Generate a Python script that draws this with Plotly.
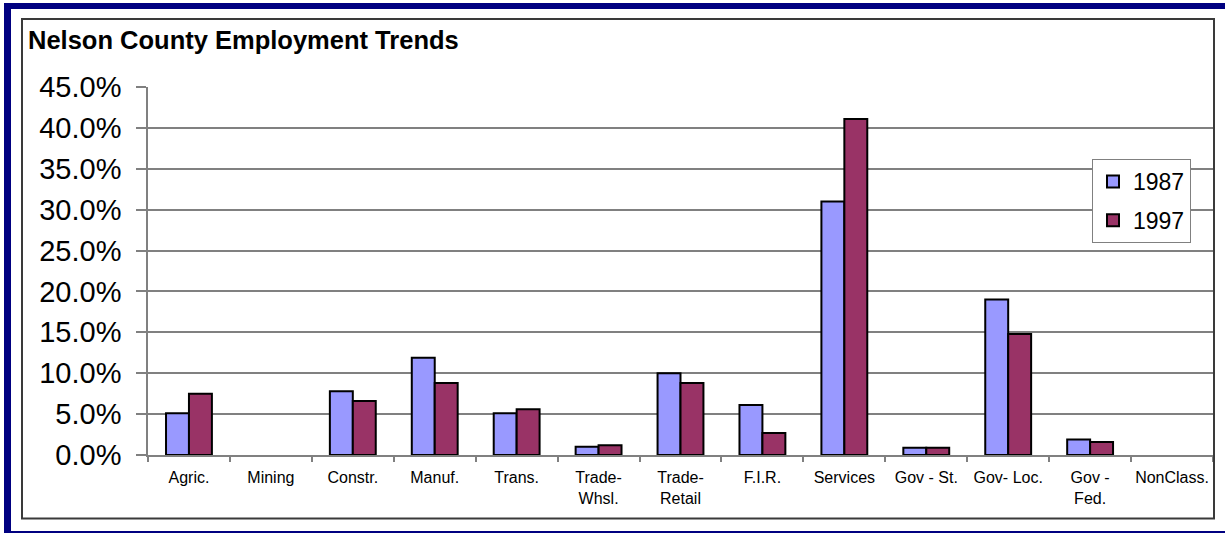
import plotly.graph_objects as go

# Share of county employment by sector (percent)
sectors = ["Agric.", "Mining", "Constr.", "Manuf.", "Trans.", "Trade-<br>Whsl.",
           "Trade-<br>Retail", "F.I.R.", "Services", "Gov - St.", "Gov- Loc.",
           "Gov -<br>Fed.", "NonClass."]
share_1987 = [5.1, 0.0, 7.8, 11.9, 5.1, 1.0, 10.0, 6.1, 31.0, 0.9, 19.0, 1.9, 0.0]
share_1997 = [7.5, 0.0, 6.6, 8.8, 5.6, 1.2, 8.8, 2.7, 41.1, 0.9, 14.8, 1.6, 0.0]
years = ["1987", "1997"]
y_ticks = [0, 5, 10, 15, 20, 25, 30, 35, 40, 45]

W, H = 1225, 533
L, R, T, B = 148, 1213, 87, 455   # plot area in pixels

def px_x(x):
    return (x - L) / (R - L)

def px_y(y):
    return (B - y) / (B - T)

def outline_widths(values):
    # empty sectors get no outline so nothing is drawn on the baseline
    return [2 if v > 0 else 0 for v in values]

FONT = "Arial, Liberation Sans, sans-serif"

fig = go.Figure()
fig.add_trace(go.Bar(x=sectors, y=share_1987, name=years[0], legendgroup="a",
                     marker=dict(color="#9999FF",
                                 line=dict(color="#000000", width=outline_widths(share_1987)))))
fig.add_trace(go.Bar(x=sectors, y=share_1997, name=years[1], legendgroup="b",
                     marker=dict(color="#993366",
                                 line=dict(color="#000000", width=outline_widths(share_1997)))))

navy = "#000080"
shapes = [
    # navy frame
    dict(type="rect", xref="paper", yref="paper", x0=px_x(4), x1=px_x(11), y0=px_y(533), y1=px_y(3),
         fillcolor=navy, line=dict(width=0), layer="below"),
    dict(type="rect", xref="paper", yref="paper", x0=px_x(4), x1=px_x(1226), y0=px_y(9), y1=px_y(3),
         fillcolor=navy, line=dict(width=0), layer="below"),
    dict(type="rect", xref="paper", yref="paper", x0=px_x(4), x1=px_x(1226), y0=px_y(534), y1=px_y(531),
         fillcolor=navy, line=dict(width=0), layer="below"),
    # chart border
    dict(type="rect", xref="paper", yref="paper", x0=px_x(22), x1=px_x(1214), y0=px_y(518.5), y1=px_y(19),
         fillcolor="rgba(0,0,0,0)", line=dict(color="#3a3a3a", width=2), layer="above"),
]

fig.update_layout(
    width=W, height=H,
    margin=dict(l=L, r=W - R, t=T, b=H - B, pad=0),
    paper_bgcolor="white", plot_bgcolor="white",
    barmode="group", bargap=0.44, bargroupgap=0,
    font=dict(family=FONT, color="#000000"),
    title=dict(text="<b>Nelson County Employment Trends</b>", xref="container", yref="container",
               x=28 / W, xanchor="left", y=1 - 40 / H, yanchor="middle",
               font=dict(family=FONT, size=25.5, color="#000000")),
    showlegend=True,
    legend=dict(x=px_x(1092), xanchor="left", y=px_y(159), yanchor="top",
                bgcolor="white", bordercolor="#808080", borderwidth=1,
                font=dict(family=FONT, size=23), traceorder="grouped", tracegroupgap=6,
                itemwidth=30),
    xaxis=dict(type="category", tickson="boundaries", ticks="outside", ticklen=5,
               tickcolor="#808080", tickwidth=1.5, showline=True, linecolor="#808080",
               linewidth=1.5, showgrid=False, tickfont=dict(family=FONT, size=16),
               ticklabelstandoff=7, tickangle=0),
    yaxis=dict(range=[0, 45], tickvals=y_ticks, ticktext=[f"{v:.1f}%" for v in y_ticks],
               ticks="outside", ticklen=10, tickcolor="#808080", tickwidth=1.5,
               showline=True, linecolor="#808080", linewidth=1.5,
               showgrid=True, gridcolor="#808080", gridwidth=1.5, zeroline=False,
               tickfont=dict(family=FONT, size=29), ticklabelstandoff=9),
    shapes=shapes,
)

fig.write_html("out.html")
